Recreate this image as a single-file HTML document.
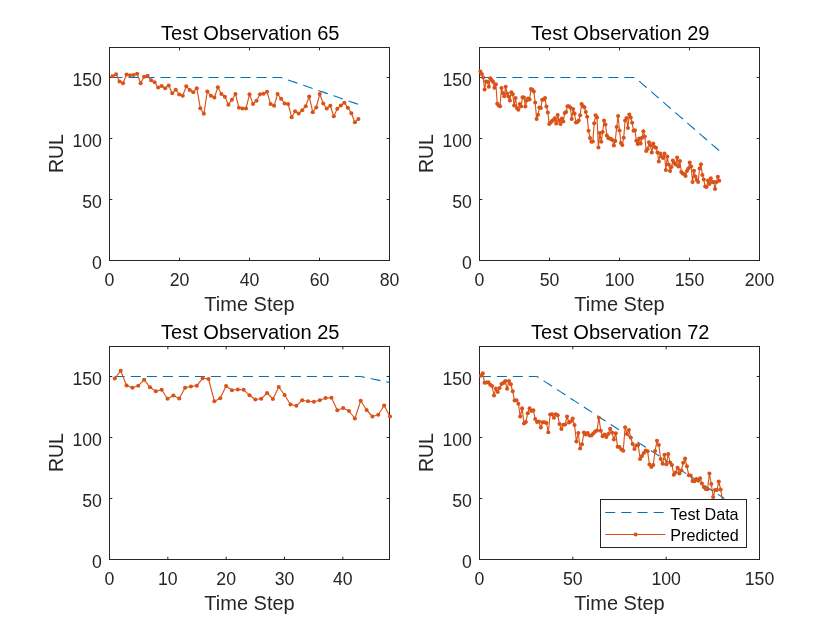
<!DOCTYPE html>
<html><head><meta charset="utf-8"><title>RUL Test Observations</title>
<style>html,body{margin:0;padding:0;background:#fff}svg{display:block}text{font-family:"Liberation Sans",Arial,Helvetica,sans-serif}</style></head><body>
<svg width="840" height="630" viewBox="0 0 840 630">
<rect width="840" height="630" fill="#fff"/>
<g id="ax1">
<clipPath id="cp0"><rect x="109.5" y="47.5" width="280.0" height="213.0"/></clipPath>
<rect x="109.5" y="47.5" width="280.0" height="213.0" fill="none" stroke="#262626" stroke-width="1"/>
<path d="M109.50 260.5v-2.8M109.50 47.5v2.8M179.50 260.5v-2.8M179.50 47.5v2.8M249.50 260.5v-2.8M249.50 47.5v2.8M319.50 260.5v-2.8M319.50 47.5v2.8M389.50 260.5v-2.8M389.50 47.5v2.8M109.5 260.50h2.8M389.5 260.50h-2.8M109.5 199.50h2.8M389.5 199.50h-2.8M109.5 138.50h2.8M389.5 138.50h-2.8M109.5 77.50h2.8M389.5 77.50h-2.8" stroke="#262626" stroke-width="1" fill="none"/>
<g clip-path="url(#cp0)">
<polyline points="112.51,77.50 116.03,77.50 119.54,77.50 123.05,77.50 126.56,77.50 130.07,77.50 133.59,77.50 137.10,77.50 140.61,77.50 144.12,77.50 147.64,77.50 151.15,77.50 154.66,77.50 158.18,77.50 161.69,77.50 165.20,77.50 168.71,77.50 172.22,77.50 175.74,77.50 179.25,77.50 182.76,77.50 186.28,77.50 189.79,77.50 193.30,77.50 196.81,77.50 200.32,77.50 203.84,77.50 207.35,77.50 210.86,77.50 214.38,77.50 217.89,77.50 221.40,77.50 224.91,77.50 228.43,77.50 231.94,77.50 235.45,77.50 238.96,77.50 242.47,77.50 245.99,77.50 249.50,77.50 253.01,77.50 256.52,77.50 260.04,77.50 263.55,77.50 267.06,77.50 270.58,77.50 274.09,77.50 277.60,77.50 281.11,77.50 284.62,78.72 288.14,79.94 291.65,81.16 295.16,82.38 298.68,83.60 302.19,84.82 305.70,86.04 309.21,87.26 312.73,88.48 316.24,89.70 319.75,90.92 323.26,92.14 326.77,93.36 330.29,94.58 333.80,95.80 337.31,97.02 340.83,98.24 344.34,99.46 347.85,100.68 351.36,101.90 354.88,103.12 358.39,104.34" fill="none" stroke="#0072BD" stroke-width="1.1" stroke-dasharray="10 6"/>
<polyline points="112.51,76.30 116.03,74.30 119.54,81.50 123.05,83.30 126.56,74.50 130.07,75.20 133.59,75.00 137.10,73.70 140.61,83.20 144.12,76.80 147.64,75.80 151.15,80.20 154.66,82.20 158.18,87.50 161.69,86.00 165.20,88.20 168.71,85.50 172.22,93.30 175.74,89.70 179.25,94.50 182.76,95.80 186.28,86.30 189.79,90.00 193.30,92.20 196.81,88.20 200.32,108.20 203.84,113.80 207.35,91.50 210.86,95.80 214.38,97.50 217.89,87.20 221.40,94.00 224.91,96.70 228.43,104.70 231.94,99.70 235.45,94.00 238.96,107.80 242.47,108.50 245.99,108.50 249.50,94.30 253.01,104.00 256.52,100.70 260.04,94.30 263.55,93.70 267.06,91.80 270.58,104.00 274.09,105.80 277.60,94.00 281.11,98.80 284.62,103.50 288.14,104.00 291.65,117.20 295.16,111.20 298.68,113.50 302.19,110.30 305.70,106.20 309.21,96.50 312.73,112.20 316.24,107.50 319.75,94.00 323.26,103.50 326.77,108.50 330.29,105.80 333.80,116.20 337.31,108.70 340.83,105.50 344.34,102.70 347.85,107.80 351.36,113.20 354.88,122.20 358.39,119.00" fill="none" stroke="#D95319" stroke-width="1.15" stroke-linejoin="round"/>
</g>
<g fill="#D95319"><circle cx="112.51" cy="76.30" r="2.05"/><circle cx="116.03" cy="74.30" r="2.05"/><circle cx="119.54" cy="81.50" r="2.05"/><circle cx="123.05" cy="83.30" r="2.05"/><circle cx="126.56" cy="74.50" r="2.05"/><circle cx="130.07" cy="75.20" r="2.05"/><circle cx="133.59" cy="75.00" r="2.05"/><circle cx="137.10" cy="73.70" r="2.05"/><circle cx="140.61" cy="83.20" r="2.05"/><circle cx="144.12" cy="76.80" r="2.05"/><circle cx="147.64" cy="75.80" r="2.05"/><circle cx="151.15" cy="80.20" r="2.05"/><circle cx="154.66" cy="82.20" r="2.05"/><circle cx="158.18" cy="87.50" r="2.05"/><circle cx="161.69" cy="86.00" r="2.05"/><circle cx="165.20" cy="88.20" r="2.05"/><circle cx="168.71" cy="85.50" r="2.05"/><circle cx="172.22" cy="93.30" r="2.05"/><circle cx="175.74" cy="89.70" r="2.05"/><circle cx="179.25" cy="94.50" r="2.05"/><circle cx="182.76" cy="95.80" r="2.05"/><circle cx="186.28" cy="86.30" r="2.05"/><circle cx="189.79" cy="90.00" r="2.05"/><circle cx="193.30" cy="92.20" r="2.05"/><circle cx="196.81" cy="88.20" r="2.05"/><circle cx="200.32" cy="108.20" r="2.05"/><circle cx="203.84" cy="113.80" r="2.05"/><circle cx="207.35" cy="91.50" r="2.05"/><circle cx="210.86" cy="95.80" r="2.05"/><circle cx="214.38" cy="97.50" r="2.05"/><circle cx="217.89" cy="87.20" r="2.05"/><circle cx="221.40" cy="94.00" r="2.05"/><circle cx="224.91" cy="96.70" r="2.05"/><circle cx="228.43" cy="104.70" r="2.05"/><circle cx="231.94" cy="99.70" r="2.05"/><circle cx="235.45" cy="94.00" r="2.05"/><circle cx="238.96" cy="107.80" r="2.05"/><circle cx="242.47" cy="108.50" r="2.05"/><circle cx="245.99" cy="108.50" r="2.05"/><circle cx="249.50" cy="94.30" r="2.05"/><circle cx="253.01" cy="104.00" r="2.05"/><circle cx="256.52" cy="100.70" r="2.05"/><circle cx="260.04" cy="94.30" r="2.05"/><circle cx="263.55" cy="93.70" r="2.05"/><circle cx="267.06" cy="91.80" r="2.05"/><circle cx="270.58" cy="104.00" r="2.05"/><circle cx="274.09" cy="105.80" r="2.05"/><circle cx="277.60" cy="94.00" r="2.05"/><circle cx="281.11" cy="98.80" r="2.05"/><circle cx="284.62" cy="103.50" r="2.05"/><circle cx="288.14" cy="104.00" r="2.05"/><circle cx="291.65" cy="117.20" r="2.05"/><circle cx="295.16" cy="111.20" r="2.05"/><circle cx="298.68" cy="113.50" r="2.05"/><circle cx="302.19" cy="110.30" r="2.05"/><circle cx="305.70" cy="106.20" r="2.05"/><circle cx="309.21" cy="96.50" r="2.05"/><circle cx="312.73" cy="112.20" r="2.05"/><circle cx="316.24" cy="107.50" r="2.05"/><circle cx="319.75" cy="94.00" r="2.05"/><circle cx="323.26" cy="103.50" r="2.05"/><circle cx="326.77" cy="108.50" r="2.05"/><circle cx="330.29" cy="105.80" r="2.05"/><circle cx="333.80" cy="116.20" r="2.05"/><circle cx="337.31" cy="108.70" r="2.05"/><circle cx="340.83" cy="105.50" r="2.05"/><circle cx="344.34" cy="102.70" r="2.05"/><circle cx="347.85" cy="107.80" r="2.05"/><circle cx="351.36" cy="113.20" r="2.05"/><circle cx="354.88" cy="122.20" r="2.05"/><circle cx="358.39" cy="119.00" r="2.05"/></g>
<text transform="translate(109.50 285.70)" font-size="17.7" fill="#262626" text-anchor="middle">0</text>
<text transform="translate(179.50 285.70)" font-size="17.7" fill="#262626" text-anchor="middle">20</text>
<text transform="translate(249.50 285.70)" font-size="17.7" fill="#262626" text-anchor="middle">40</text>
<text transform="translate(319.50 285.70)" font-size="17.7" fill="#262626" text-anchor="middle">60</text>
<text transform="translate(389.50 285.70)" font-size="17.7" fill="#262626" text-anchor="middle">80</text>
<text transform="translate(101.90 269.00)" font-size="17.7" fill="#262626" text-anchor="end">0</text>
<text transform="translate(101.90 208.00)" font-size="17.7" fill="#262626" text-anchor="end">50</text>
<text transform="translate(101.90 147.00)" font-size="17.7" fill="#262626" text-anchor="end">100</text>
<text transform="translate(101.90 86.00)" font-size="17.7" fill="#262626" text-anchor="end">150</text>
<text transform="translate(250.20 39.60) scale(1.025 1)" font-size="19.6" fill="#000" text-anchor="middle">Test Observation 65</text>
<text transform="translate(249.50 310.60) scale(1.02 1)" font-size="19.6" fill="#262626" text-anchor="middle">Time Step</text>
<text transform="translate(63.10 153.60) rotate(-90)" font-size="19.5" fill="#262626" text-anchor="middle">RUL</text>
</g>
<g id="ax2">
<clipPath id="cp1"><rect x="479.5" y="47.5" width="280.0" height="213.0"/></clipPath>
<rect x="479.5" y="47.5" width="280.0" height="213.0" fill="none" stroke="#262626" stroke-width="1"/>
<path d="M479.50 260.5v-2.8M479.50 47.5v2.8M549.50 260.5v-2.8M549.50 47.5v2.8M619.50 260.5v-2.8M619.50 47.5v2.8M689.50 260.5v-2.8M689.50 47.5v2.8M759.50 260.5v-2.8M759.50 47.5v2.8M479.5 260.50h2.8M759.5 260.50h-2.8M479.5 199.50h2.8M759.5 199.50h-2.8M479.5 138.50h2.8M759.5 138.50h-2.8M479.5 77.50h2.8M759.5 77.50h-2.8" stroke="#262626" stroke-width="1" fill="none"/>
<g clip-path="url(#cp1)">
<polyline points="480.40,77.50 481.81,77.50 483.21,77.50 484.62,77.50 486.02,77.50 487.43,77.50 488.83,77.50 490.24,77.50 491.64,77.50 493.05,77.50 494.45,77.50 495.86,77.50 497.26,77.50 498.67,77.50 500.07,77.50 501.48,77.50 502.88,77.50 504.29,77.50 505.69,77.50 507.10,77.50 508.50,77.50 509.91,77.50 511.31,77.50 512.72,77.50 514.12,77.50 515.53,77.50 516.93,77.50 518.34,77.50 519.75,77.50 521.15,77.50 522.55,77.50 523.96,77.50 525.37,77.50 526.77,77.50 528.17,77.50 529.58,77.50 530.99,77.50 532.39,77.50 533.79,77.50 535.20,77.50 536.61,77.50 538.01,77.50 539.41,77.50 540.82,77.50 542.23,77.50 543.63,77.50 545.03,77.50 546.44,77.50 547.85,77.50 549.25,77.50 550.65,77.50 552.06,77.50 553.47,77.50 554.87,77.50 556.27,77.50 557.68,77.50 559.09,77.50 560.49,77.50 561.89,77.50 563.30,77.50 564.71,77.50 566.11,77.50 567.51,77.50 568.92,77.50 570.33,77.50 571.73,77.50 573.13,77.50 574.54,77.50 575.95,77.50 577.35,77.50 578.75,77.50 580.16,77.50 581.57,77.50 582.97,77.50 584.38,77.50 585.78,77.50 587.18,77.50 588.59,77.50 590.00,77.50 591.40,77.50 592.81,77.50 594.21,77.50 595.62,77.50 597.02,77.50 598.42,77.50 599.83,77.50 601.24,77.50 602.64,77.50 604.04,77.50 605.45,77.50 606.86,77.50 608.26,77.50 609.66,77.50 611.07,77.50 612.48,77.50 613.88,77.50 615.28,77.50 616.69,77.50 618.10,77.50 619.50,77.50 620.90,77.50 622.31,77.50 623.72,77.50 625.12,77.50 626.52,77.50 627.93,77.50 629.34,77.50 630.74,77.50 632.14,77.50 633.55,77.50 634.96,77.50 636.36,78.72 637.76,79.94 639.17,81.16 640.58,82.38 641.98,83.60 643.38,84.82 644.79,86.04 646.19,87.26 647.60,88.48 649.00,89.70 650.41,90.92 651.82,92.14 653.22,93.36 654.62,94.58 656.03,95.80 657.43,97.02 658.84,98.24 660.25,99.46 661.65,100.68 663.06,101.90 664.46,103.12 665.87,104.34 667.27,105.56 668.67,106.78 670.08,108.00 671.49,109.22 672.89,110.44 674.30,111.66 675.70,112.88 677.11,114.10 678.51,115.32 679.91,116.54 681.32,117.76 682.73,118.98 684.13,120.20 685.53,121.42 686.94,122.64 688.35,123.86 689.75,125.08 691.15,126.30 692.56,127.52 693.97,128.74 695.37,129.96 696.77,131.18 698.18,132.40 699.59,133.62 700.99,134.84 702.39,136.06 703.80,137.28 705.21,138.50 706.61,139.72 708.01,140.94 709.42,142.16 710.83,143.38 712.23,144.60 713.63,145.82 715.04,147.04 716.44,148.26 717.85,149.48 719.25,150.70" fill="none" stroke="#0072BD" stroke-width="1.1" stroke-dasharray="10 6"/>
<polyline points="480.40,71.50 481.81,74.00 483.21,77.50 484.62,89.50 486.02,81.50 487.43,81.80 488.83,86.80 490.24,78.30 491.64,80.00 493.05,81.80 494.45,87.80 495.86,84.30 497.26,103.70 498.67,105.50 500.07,106.20 501.48,88.00 502.88,93.00 504.29,96.20 505.69,86.80 507.10,93.50 508.50,96.50 509.91,100.50 511.31,92.20 512.72,94.30 514.12,105.50 515.53,98.00 516.93,108.00 518.34,109.70 519.75,104.00 521.15,106.50 522.55,97.20 523.96,97.50 525.37,106.50 526.77,100.50 528.17,98.50 529.58,99.50 530.99,89.00 532.39,89.80 533.79,91.50 535.20,102.50 536.61,119.00 538.01,114.80 539.41,107.50 540.82,108.00 542.23,99.80 543.63,99.50 545.03,98.00 546.44,106.50 547.85,112.50 549.25,124.00 550.65,122.50 552.06,121.00 553.47,120.00 554.87,118.20 556.27,123.50 557.68,115.00 559.09,120.50 560.49,124.00 561.89,118.50 563.30,121.50 564.71,113.00 566.11,112.00 567.51,106.20 568.92,106.20 570.33,107.50 571.73,119.00 573.13,109.00 574.54,113.50 575.95,122.50 577.35,122.00 578.75,120.50 580.16,115.20 581.57,104.00 582.97,106.20 584.38,107.20 585.78,112.00 587.18,116.80 588.59,130.80 590.00,138.00 591.40,141.80 592.81,141.50 594.21,123.20 595.62,115.20 597.02,117.50 598.42,147.50 599.83,133.00 601.24,141.80 602.64,132.00 604.04,120.50 605.45,124.50 606.86,135.50 608.26,138.00 609.66,138.50 611.07,139.00 612.48,140.00 613.88,145.50 615.28,141.00 616.69,127.00 618.10,116.00 619.50,130.50 620.90,143.00 622.31,145.00 623.72,137.80 625.12,120.50 626.52,118.00 627.93,128.00 629.34,114.50 630.74,117.50 632.14,122.80 633.55,130.80 634.96,130.30 636.36,140.80 637.76,144.00 639.17,138.50 640.58,143.50 641.98,137.80 643.38,131.30 644.79,136.50 646.19,151.00 647.60,149.00 649.00,142.30 650.41,145.50 651.82,152.50 653.22,143.50 654.62,147.00 656.03,147.80 657.43,152.50 658.84,161.50 660.25,153.50 661.65,156.50 663.06,158.00 664.46,153.50 665.87,170.00 667.27,156.50 668.67,164.50 670.08,171.00 671.49,167.00 672.89,160.50 674.30,163.00 675.70,164.50 677.11,157.50 678.51,166.50 679.91,161.00 681.32,172.00 682.73,173.50 684.13,174.00 685.53,176.00 686.94,171.00 688.35,168.50 689.75,162.50 691.15,166.50 692.56,182.00 693.97,170.80 695.37,176.50 696.77,180.00 698.18,182.00 699.59,168.50 700.99,164.30 702.39,175.00 703.80,179.50 705.21,186.50 706.61,187.00 708.01,180.50 709.42,184.00 710.83,178.20 712.23,182.00 713.63,182.00 715.04,189.00 716.44,182.00 717.85,176.80 719.25,180.80" fill="none" stroke="#D95319" stroke-width="1.15" stroke-linejoin="round"/>
</g>
<g fill="#D95319"><circle cx="480.40" cy="71.50" r="2.05"/><circle cx="481.81" cy="74.00" r="2.05"/><circle cx="483.21" cy="77.50" r="2.05"/><circle cx="484.62" cy="89.50" r="2.05"/><circle cx="486.02" cy="81.50" r="2.05"/><circle cx="487.43" cy="81.80" r="2.05"/><circle cx="488.83" cy="86.80" r="2.05"/><circle cx="490.24" cy="78.30" r="2.05"/><circle cx="491.64" cy="80.00" r="2.05"/><circle cx="493.05" cy="81.80" r="2.05"/><circle cx="494.45" cy="87.80" r="2.05"/><circle cx="495.86" cy="84.30" r="2.05"/><circle cx="497.26" cy="103.70" r="2.05"/><circle cx="498.67" cy="105.50" r="2.05"/><circle cx="500.07" cy="106.20" r="2.05"/><circle cx="501.48" cy="88.00" r="2.05"/><circle cx="502.88" cy="93.00" r="2.05"/><circle cx="504.29" cy="96.20" r="2.05"/><circle cx="505.69" cy="86.80" r="2.05"/><circle cx="507.10" cy="93.50" r="2.05"/><circle cx="508.50" cy="96.50" r="2.05"/><circle cx="509.91" cy="100.50" r="2.05"/><circle cx="511.31" cy="92.20" r="2.05"/><circle cx="512.72" cy="94.30" r="2.05"/><circle cx="514.12" cy="105.50" r="2.05"/><circle cx="515.53" cy="98.00" r="2.05"/><circle cx="516.93" cy="108.00" r="2.05"/><circle cx="518.34" cy="109.70" r="2.05"/><circle cx="519.75" cy="104.00" r="2.05"/><circle cx="521.15" cy="106.50" r="2.05"/><circle cx="522.55" cy="97.20" r="2.05"/><circle cx="523.96" cy="97.50" r="2.05"/><circle cx="525.37" cy="106.50" r="2.05"/><circle cx="526.77" cy="100.50" r="2.05"/><circle cx="528.17" cy="98.50" r="2.05"/><circle cx="529.58" cy="99.50" r="2.05"/><circle cx="530.99" cy="89.00" r="2.05"/><circle cx="532.39" cy="89.80" r="2.05"/><circle cx="533.79" cy="91.50" r="2.05"/><circle cx="535.20" cy="102.50" r="2.05"/><circle cx="536.61" cy="119.00" r="2.05"/><circle cx="538.01" cy="114.80" r="2.05"/><circle cx="539.41" cy="107.50" r="2.05"/><circle cx="540.82" cy="108.00" r="2.05"/><circle cx="542.23" cy="99.80" r="2.05"/><circle cx="543.63" cy="99.50" r="2.05"/><circle cx="545.03" cy="98.00" r="2.05"/><circle cx="546.44" cy="106.50" r="2.05"/><circle cx="547.85" cy="112.50" r="2.05"/><circle cx="549.25" cy="124.00" r="2.05"/><circle cx="550.65" cy="122.50" r="2.05"/><circle cx="552.06" cy="121.00" r="2.05"/><circle cx="553.47" cy="120.00" r="2.05"/><circle cx="554.87" cy="118.20" r="2.05"/><circle cx="556.27" cy="123.50" r="2.05"/><circle cx="557.68" cy="115.00" r="2.05"/><circle cx="559.09" cy="120.50" r="2.05"/><circle cx="560.49" cy="124.00" r="2.05"/><circle cx="561.89" cy="118.50" r="2.05"/><circle cx="563.30" cy="121.50" r="2.05"/><circle cx="564.71" cy="113.00" r="2.05"/><circle cx="566.11" cy="112.00" r="2.05"/><circle cx="567.51" cy="106.20" r="2.05"/><circle cx="568.92" cy="106.20" r="2.05"/><circle cx="570.33" cy="107.50" r="2.05"/><circle cx="571.73" cy="119.00" r="2.05"/><circle cx="573.13" cy="109.00" r="2.05"/><circle cx="574.54" cy="113.50" r="2.05"/><circle cx="575.95" cy="122.50" r="2.05"/><circle cx="577.35" cy="122.00" r="2.05"/><circle cx="578.75" cy="120.50" r="2.05"/><circle cx="580.16" cy="115.20" r="2.05"/><circle cx="581.57" cy="104.00" r="2.05"/><circle cx="582.97" cy="106.20" r="2.05"/><circle cx="584.38" cy="107.20" r="2.05"/><circle cx="585.78" cy="112.00" r="2.05"/><circle cx="587.18" cy="116.80" r="2.05"/><circle cx="588.59" cy="130.80" r="2.05"/><circle cx="590.00" cy="138.00" r="2.05"/><circle cx="591.40" cy="141.80" r="2.05"/><circle cx="592.81" cy="141.50" r="2.05"/><circle cx="594.21" cy="123.20" r="2.05"/><circle cx="595.62" cy="115.20" r="2.05"/><circle cx="597.02" cy="117.50" r="2.05"/><circle cx="598.42" cy="147.50" r="2.05"/><circle cx="599.83" cy="133.00" r="2.05"/><circle cx="601.24" cy="141.80" r="2.05"/><circle cx="602.64" cy="132.00" r="2.05"/><circle cx="604.04" cy="120.50" r="2.05"/><circle cx="605.45" cy="124.50" r="2.05"/><circle cx="606.86" cy="135.50" r="2.05"/><circle cx="608.26" cy="138.00" r="2.05"/><circle cx="609.66" cy="138.50" r="2.05"/><circle cx="611.07" cy="139.00" r="2.05"/><circle cx="612.48" cy="140.00" r="2.05"/><circle cx="613.88" cy="145.50" r="2.05"/><circle cx="615.28" cy="141.00" r="2.05"/><circle cx="616.69" cy="127.00" r="2.05"/><circle cx="618.10" cy="116.00" r="2.05"/><circle cx="619.50" cy="130.50" r="2.05"/><circle cx="620.90" cy="143.00" r="2.05"/><circle cx="622.31" cy="145.00" r="2.05"/><circle cx="623.72" cy="137.80" r="2.05"/><circle cx="625.12" cy="120.50" r="2.05"/><circle cx="626.52" cy="118.00" r="2.05"/><circle cx="627.93" cy="128.00" r="2.05"/><circle cx="629.34" cy="114.50" r="2.05"/><circle cx="630.74" cy="117.50" r="2.05"/><circle cx="632.14" cy="122.80" r="2.05"/><circle cx="633.55" cy="130.80" r="2.05"/><circle cx="634.96" cy="130.30" r="2.05"/><circle cx="636.36" cy="140.80" r="2.05"/><circle cx="637.76" cy="144.00" r="2.05"/><circle cx="639.17" cy="138.50" r="2.05"/><circle cx="640.58" cy="143.50" r="2.05"/><circle cx="641.98" cy="137.80" r="2.05"/><circle cx="643.38" cy="131.30" r="2.05"/><circle cx="644.79" cy="136.50" r="2.05"/><circle cx="646.19" cy="151.00" r="2.05"/><circle cx="647.60" cy="149.00" r="2.05"/><circle cx="649.00" cy="142.30" r="2.05"/><circle cx="650.41" cy="145.50" r="2.05"/><circle cx="651.82" cy="152.50" r="2.05"/><circle cx="653.22" cy="143.50" r="2.05"/><circle cx="654.62" cy="147.00" r="2.05"/><circle cx="656.03" cy="147.80" r="2.05"/><circle cx="657.43" cy="152.50" r="2.05"/><circle cx="658.84" cy="161.50" r="2.05"/><circle cx="660.25" cy="153.50" r="2.05"/><circle cx="661.65" cy="156.50" r="2.05"/><circle cx="663.06" cy="158.00" r="2.05"/><circle cx="664.46" cy="153.50" r="2.05"/><circle cx="665.87" cy="170.00" r="2.05"/><circle cx="667.27" cy="156.50" r="2.05"/><circle cx="668.67" cy="164.50" r="2.05"/><circle cx="670.08" cy="171.00" r="2.05"/><circle cx="671.49" cy="167.00" r="2.05"/><circle cx="672.89" cy="160.50" r="2.05"/><circle cx="674.30" cy="163.00" r="2.05"/><circle cx="675.70" cy="164.50" r="2.05"/><circle cx="677.11" cy="157.50" r="2.05"/><circle cx="678.51" cy="166.50" r="2.05"/><circle cx="679.91" cy="161.00" r="2.05"/><circle cx="681.32" cy="172.00" r="2.05"/><circle cx="682.73" cy="173.50" r="2.05"/><circle cx="684.13" cy="174.00" r="2.05"/><circle cx="685.53" cy="176.00" r="2.05"/><circle cx="686.94" cy="171.00" r="2.05"/><circle cx="688.35" cy="168.50" r="2.05"/><circle cx="689.75" cy="162.50" r="2.05"/><circle cx="691.15" cy="166.50" r="2.05"/><circle cx="692.56" cy="182.00" r="2.05"/><circle cx="693.97" cy="170.80" r="2.05"/><circle cx="695.37" cy="176.50" r="2.05"/><circle cx="696.77" cy="180.00" r="2.05"/><circle cx="698.18" cy="182.00" r="2.05"/><circle cx="699.59" cy="168.50" r="2.05"/><circle cx="700.99" cy="164.30" r="2.05"/><circle cx="702.39" cy="175.00" r="2.05"/><circle cx="703.80" cy="179.50" r="2.05"/><circle cx="705.21" cy="186.50" r="2.05"/><circle cx="706.61" cy="187.00" r="2.05"/><circle cx="708.01" cy="180.50" r="2.05"/><circle cx="709.42" cy="184.00" r="2.05"/><circle cx="710.83" cy="178.20" r="2.05"/><circle cx="712.23" cy="182.00" r="2.05"/><circle cx="713.63" cy="182.00" r="2.05"/><circle cx="715.04" cy="189.00" r="2.05"/><circle cx="716.44" cy="182.00" r="2.05"/><circle cx="717.85" cy="176.80" r="2.05"/><circle cx="719.25" cy="180.80" r="2.05"/></g>
<text transform="translate(479.50 285.70)" font-size="17.7" fill="#262626" text-anchor="middle">0</text>
<text transform="translate(549.50 285.70)" font-size="17.7" fill="#262626" text-anchor="middle">50</text>
<text transform="translate(619.50 285.70)" font-size="17.7" fill="#262626" text-anchor="middle">100</text>
<text transform="translate(689.50 285.70)" font-size="17.7" fill="#262626" text-anchor="middle">150</text>
<text transform="translate(759.50 285.70)" font-size="17.7" fill="#262626" text-anchor="middle">200</text>
<text transform="translate(471.90 269.00)" font-size="17.7" fill="#262626" text-anchor="end">0</text>
<text transform="translate(471.90 208.00)" font-size="17.7" fill="#262626" text-anchor="end">50</text>
<text transform="translate(471.90 147.00)" font-size="17.7" fill="#262626" text-anchor="end">100</text>
<text transform="translate(471.90 86.00)" font-size="17.7" fill="#262626" text-anchor="end">150</text>
<text transform="translate(620.20 39.60) scale(1.025 1)" font-size="19.6" fill="#000" text-anchor="middle">Test Observation 29</text>
<text transform="translate(619.50 310.60) scale(1.02 1)" font-size="19.6" fill="#262626" text-anchor="middle">Time Step</text>
<text transform="translate(433.10 153.60) rotate(-90)" font-size="19.5" fill="#262626" text-anchor="middle">RUL</text>
</g>
<g id="ax3">
<clipPath id="cp2"><rect x="109.5" y="346.5" width="280.0" height="213.0"/></clipPath>
<rect x="109.5" y="346.5" width="280.0" height="213.0" fill="none" stroke="#262626" stroke-width="1"/>
<path d="M109.50 559.5v-2.8M109.50 346.5v2.8M167.83 559.5v-2.8M167.83 346.5v2.8M226.17 559.5v-2.8M226.17 346.5v2.8M284.50 559.5v-2.8M284.50 346.5v2.8M342.83 559.5v-2.8M342.83 346.5v2.8M109.5 559.50h2.8M389.5 559.50h-2.8M109.5 498.50h2.8M389.5 498.50h-2.8M109.5 437.50h2.8M389.5 437.50h-2.8M109.5 376.50h2.8M389.5 376.50h-2.8" stroke="#262626" stroke-width="1" fill="none"/>
<g clip-path="url(#cp2)">
<polyline points="114.85,376.50 120.71,376.50 126.56,376.50 132.42,376.50 138.27,376.50 144.12,376.50 149.98,376.50 155.83,376.50 161.69,376.50 167.54,376.50 173.40,376.50 179.25,376.50 185.10,376.50 190.96,376.50 196.81,376.50 202.67,376.50 208.52,376.50 214.38,376.50 220.23,376.50 226.08,376.50 231.94,376.50 237.79,376.50 243.65,376.50 249.50,376.50 255.35,376.50 261.21,376.50 267.06,376.50 272.92,376.50 278.77,376.50 284.62,376.50 290.48,376.50 296.33,376.50 302.19,376.50 308.04,376.50 313.90,376.50 319.75,376.50 325.60,376.50 331.46,376.50 337.31,376.50 343.17,376.50 349.02,376.50 354.88,376.50 360.73,376.50 366.58,377.72 372.44,378.94 378.29,380.16 384.15,381.38 390.00,382.60" fill="none" stroke="#0072BD" stroke-width="1.1" stroke-dasharray="10 6"/>
<polyline points="114.85,378.50 120.71,370.70 126.56,385.50 132.42,387.80 138.27,385.80 144.12,379.70 149.98,387.30 155.83,391.20 161.69,389.70 167.54,398.80 173.40,395.50 179.25,398.50 185.10,387.80 190.96,386.50 196.81,385.70 202.67,378.30 208.52,379.00 214.38,401.30 220.23,398.20 226.08,386.00 231.94,390.30 237.79,389.50 243.65,389.80 249.50,395.30 255.35,399.50 261.21,398.80 267.06,393.00 272.92,399.00 278.77,387.00 284.62,395.00 290.48,404.50 296.33,405.80 302.19,400.20 308.04,401.30 313.90,401.80 319.75,400.20 325.60,398.00 331.46,397.70 337.31,410.30 343.17,408.00 349.02,411.00 354.88,418.50 360.73,400.80 366.58,410.00 372.44,416.50 378.29,414.70 384.15,405.50 390.00,416.50" fill="none" stroke="#D95319" stroke-width="1.15" stroke-linejoin="round"/>
</g>
<g fill="#D95319"><circle cx="114.85" cy="378.50" r="2.05"/><circle cx="120.71" cy="370.70" r="2.05"/><circle cx="126.56" cy="385.50" r="2.05"/><circle cx="132.42" cy="387.80" r="2.05"/><circle cx="138.27" cy="385.80" r="2.05"/><circle cx="144.12" cy="379.70" r="2.05"/><circle cx="149.98" cy="387.30" r="2.05"/><circle cx="155.83" cy="391.20" r="2.05"/><circle cx="161.69" cy="389.70" r="2.05"/><circle cx="167.54" cy="398.80" r="2.05"/><circle cx="173.40" cy="395.50" r="2.05"/><circle cx="179.25" cy="398.50" r="2.05"/><circle cx="185.10" cy="387.80" r="2.05"/><circle cx="190.96" cy="386.50" r="2.05"/><circle cx="196.81" cy="385.70" r="2.05"/><circle cx="202.67" cy="378.30" r="2.05"/><circle cx="208.52" cy="379.00" r="2.05"/><circle cx="214.38" cy="401.30" r="2.05"/><circle cx="220.23" cy="398.20" r="2.05"/><circle cx="226.08" cy="386.00" r="2.05"/><circle cx="231.94" cy="390.30" r="2.05"/><circle cx="237.79" cy="389.50" r="2.05"/><circle cx="243.65" cy="389.80" r="2.05"/><circle cx="249.50" cy="395.30" r="2.05"/><circle cx="255.35" cy="399.50" r="2.05"/><circle cx="261.21" cy="398.80" r="2.05"/><circle cx="267.06" cy="393.00" r="2.05"/><circle cx="272.92" cy="399.00" r="2.05"/><circle cx="278.77" cy="387.00" r="2.05"/><circle cx="284.62" cy="395.00" r="2.05"/><circle cx="290.48" cy="404.50" r="2.05"/><circle cx="296.33" cy="405.80" r="2.05"/><circle cx="302.19" cy="400.20" r="2.05"/><circle cx="308.04" cy="401.30" r="2.05"/><circle cx="313.90" cy="401.80" r="2.05"/><circle cx="319.75" cy="400.20" r="2.05"/><circle cx="325.60" cy="398.00" r="2.05"/><circle cx="331.46" cy="397.70" r="2.05"/><circle cx="337.31" cy="410.30" r="2.05"/><circle cx="343.17" cy="408.00" r="2.05"/><circle cx="349.02" cy="411.00" r="2.05"/><circle cx="354.88" cy="418.50" r="2.05"/><circle cx="360.73" cy="400.80" r="2.05"/><circle cx="366.58" cy="410.00" r="2.05"/><circle cx="372.44" cy="416.50" r="2.05"/><circle cx="378.29" cy="414.70" r="2.05"/><circle cx="384.15" cy="405.50" r="2.05"/><circle cx="390.00" cy="416.50" r="2.05"/></g>
<text transform="translate(109.50 584.70)" font-size="17.7" fill="#262626" text-anchor="middle">0</text>
<text transform="translate(167.83 584.70)" font-size="17.7" fill="#262626" text-anchor="middle">10</text>
<text transform="translate(226.17 584.70)" font-size="17.7" fill="#262626" text-anchor="middle">20</text>
<text transform="translate(284.50 584.70)" font-size="17.7" fill="#262626" text-anchor="middle">30</text>
<text transform="translate(342.83 584.70)" font-size="17.7" fill="#262626" text-anchor="middle">40</text>
<text transform="translate(101.90 568.00)" font-size="17.7" fill="#262626" text-anchor="end">0</text>
<text transform="translate(101.90 507.00)" font-size="17.7" fill="#262626" text-anchor="end">50</text>
<text transform="translate(101.90 446.00)" font-size="17.7" fill="#262626" text-anchor="end">100</text>
<text transform="translate(101.90 385.00)" font-size="17.7" fill="#262626" text-anchor="end">150</text>
<text transform="translate(250.20 338.60) scale(1.025 1)" font-size="19.6" fill="#000" text-anchor="middle">Test Observation 25</text>
<text transform="translate(249.50 609.60) scale(1.02 1)" font-size="19.6" fill="#262626" text-anchor="middle">Time Step</text>
<text transform="translate(63.10 452.60) rotate(-90)" font-size="19.5" fill="#262626" text-anchor="middle">RUL</text>
</g>
<g id="ax4">
<clipPath id="cp3"><rect x="479.5" y="346.5" width="280.0" height="213.0"/></clipPath>
<rect x="479.5" y="346.5" width="280.0" height="213.0" fill="none" stroke="#262626" stroke-width="1"/>
<path d="M479.50 559.5v-2.8M479.50 346.5v2.8M572.83 559.5v-2.8M572.83 346.5v2.8M666.17 559.5v-2.8M666.17 346.5v2.8M759.50 559.5v-2.8M759.50 346.5v2.8M479.5 559.50h2.8M759.5 559.50h-2.8M479.5 498.50h2.8M759.5 498.50h-2.8M479.5 437.50h2.8M759.5 437.50h-2.8M479.5 376.50h2.8M759.5 376.50h-2.8" stroke="#262626" stroke-width="1" fill="none"/>
<g clip-path="url(#cp3)">
<polyline points="480.87,376.50 482.75,376.50 484.62,376.50 486.49,376.50 488.37,376.50 490.24,376.50 492.11,376.50 493.99,376.50 495.86,376.50 497.73,376.50 499.61,376.50 501.48,376.50 503.35,376.50 505.23,376.50 507.10,376.50 508.97,376.50 510.85,376.50 512.72,376.50 514.59,376.50 516.47,376.50 518.34,376.50 520.21,376.50 522.09,376.50 523.96,376.50 525.83,376.50 527.71,376.50 529.58,376.50 531.45,376.50 533.33,376.50 535.20,376.50 537.07,376.50 538.95,377.72 540.82,378.94 542.69,380.16 544.57,381.38 546.44,382.60 548.31,383.82 550.19,385.04 552.06,386.26 553.93,387.48 555.81,388.70 557.68,389.92 559.55,391.14 561.43,392.36 563.30,393.58 565.17,394.80 567.05,396.02 568.92,397.24 570.79,398.46 572.67,399.68 574.54,400.90 576.41,402.12 578.29,403.34 580.16,404.56 582.03,405.78 583.91,407.00 585.78,408.22 587.65,409.44 589.53,410.66 591.40,411.88 593.27,413.10 595.15,414.32 597.02,415.54 598.89,416.76 600.77,417.98 602.64,419.20 604.51,420.42 606.39,421.64 608.26,422.86 610.13,424.08 612.01,425.30 613.88,426.52 615.75,427.74 617.63,428.96 619.50,430.18 621.37,431.40 623.25,432.62 625.12,433.84 626.99,435.06 628.87,436.28 630.74,437.50 632.61,438.72 634.49,439.94 636.36,441.16 638.23,442.38 640.11,443.60 641.98,444.82 643.85,446.04 645.73,447.26 647.60,448.48 649.47,449.70 651.35,450.92 653.22,452.14 655.09,453.36 656.97,454.58 658.84,455.80 660.71,457.02 662.59,458.24 664.46,459.46 666.33,460.68 668.21,461.90 670.08,463.12 671.95,464.34 673.83,465.56 675.70,466.78 677.57,468.00 679.45,469.22 681.32,470.44 683.19,471.66 685.07,472.88 686.94,474.10 688.81,475.32 690.69,476.54 692.56,477.76 694.43,478.98 696.31,480.20 698.18,481.42 700.05,482.64 701.93,483.86 703.80,485.08 705.67,486.30 707.55,487.52 709.42,488.74 711.29,489.96 713.17,491.18 715.04,492.40 716.91,493.62 718.79,494.84 720.66,496.06 722.53,497.28 724.41,498.50" fill="none" stroke="#0072BD" stroke-width="1.1" stroke-dasharray="10 6"/>
<polyline points="480.87,375.80 482.75,373.30 484.62,382.80 486.49,382.50 488.37,382.20 490.24,384.80 492.11,386.00 493.99,395.50 495.86,388.50 497.73,392.00 499.61,388.00 501.48,384.00 503.35,383.00 505.23,381.00 507.10,388.80 508.97,381.00 510.85,384.30 512.72,391.30 514.59,400.50 516.47,400.20 518.34,403.70 520.21,416.50 522.09,408.40 523.96,423.50 525.83,422.00 527.71,413.30 529.58,408.40 531.45,411.00 533.33,410.20 535.20,419.00 537.07,422.00 538.95,421.50 540.82,427.50 542.69,422.20 544.57,422.20 546.44,423.00 548.31,432.20 550.19,414.50 552.06,414.30 553.93,417.70 555.81,414.20 557.68,415.30 559.55,424.00 561.43,429.00 563.30,424.80 565.17,424.50 567.05,416.50 568.92,422.50 570.79,421.50 572.67,418.50 574.54,425.00 576.41,441.50 578.29,433.00 580.16,448.50 582.03,444.30 583.91,432.50 585.78,434.50 587.65,433.00 589.53,435.50 591.40,435.50 593.27,433.50 595.15,431.50 597.02,430.50 598.89,417.70 600.77,430.80 602.64,436.30 604.51,434.50 606.39,437.00 608.26,434.00 610.13,428.80 612.01,432.50 613.88,439.50 615.75,433.30 617.63,446.80 619.50,447.00 621.37,449.50 623.25,450.70 625.12,427.20 626.99,434.00 628.87,430.00 630.74,437.50 632.61,444.00 634.49,449.00 636.36,445.50 638.23,445.00 640.11,459.00 641.98,456.00 643.85,453.00 645.73,450.50 647.60,451.20 649.47,464.50 651.35,467.00 653.22,465.00 655.09,451.00 656.97,440.80 658.84,445.00 660.71,459.00 662.59,463.80 664.46,454.80 666.33,464.20 668.21,454.00 670.08,462.50 671.95,465.00 673.83,474.80 675.70,472.50 677.57,467.80 679.45,473.50 681.32,470.50 683.19,462.80 685.07,458.50 686.94,466.30 688.81,475.30 690.69,475.50 692.56,481.00 694.43,481.20 696.31,479.00 698.18,480.50 700.05,478.20 701.93,483.50 703.80,487.00 705.67,489.00 707.55,489.30 709.42,473.50 711.29,484.00 713.17,497.00 715.04,490.00 716.91,490.00 718.79,481.50 720.66,489.50 722.53,500.20 724.41,506.00" fill="none" stroke="#D95319" stroke-width="1.15" stroke-linejoin="round"/>
</g>
<g fill="#D95319"><circle cx="480.87" cy="375.80" r="2.05"/><circle cx="482.75" cy="373.30" r="2.05"/><circle cx="484.62" cy="382.80" r="2.05"/><circle cx="486.49" cy="382.50" r="2.05"/><circle cx="488.37" cy="382.20" r="2.05"/><circle cx="490.24" cy="384.80" r="2.05"/><circle cx="492.11" cy="386.00" r="2.05"/><circle cx="493.99" cy="395.50" r="2.05"/><circle cx="495.86" cy="388.50" r="2.05"/><circle cx="497.73" cy="392.00" r="2.05"/><circle cx="499.61" cy="388.00" r="2.05"/><circle cx="501.48" cy="384.00" r="2.05"/><circle cx="503.35" cy="383.00" r="2.05"/><circle cx="505.23" cy="381.00" r="2.05"/><circle cx="507.10" cy="388.80" r="2.05"/><circle cx="508.97" cy="381.00" r="2.05"/><circle cx="510.85" cy="384.30" r="2.05"/><circle cx="512.72" cy="391.30" r="2.05"/><circle cx="514.59" cy="400.50" r="2.05"/><circle cx="516.47" cy="400.20" r="2.05"/><circle cx="518.34" cy="403.70" r="2.05"/><circle cx="520.21" cy="416.50" r="2.05"/><circle cx="522.09" cy="408.40" r="2.05"/><circle cx="523.96" cy="423.50" r="2.05"/><circle cx="525.83" cy="422.00" r="2.05"/><circle cx="527.71" cy="413.30" r="2.05"/><circle cx="529.58" cy="408.40" r="2.05"/><circle cx="531.45" cy="411.00" r="2.05"/><circle cx="533.33" cy="410.20" r="2.05"/><circle cx="535.20" cy="419.00" r="2.05"/><circle cx="537.07" cy="422.00" r="2.05"/><circle cx="538.95" cy="421.50" r="2.05"/><circle cx="540.82" cy="427.50" r="2.05"/><circle cx="542.69" cy="422.20" r="2.05"/><circle cx="544.57" cy="422.20" r="2.05"/><circle cx="546.44" cy="423.00" r="2.05"/><circle cx="548.31" cy="432.20" r="2.05"/><circle cx="550.19" cy="414.50" r="2.05"/><circle cx="552.06" cy="414.30" r="2.05"/><circle cx="553.93" cy="417.70" r="2.05"/><circle cx="555.81" cy="414.20" r="2.05"/><circle cx="557.68" cy="415.30" r="2.05"/><circle cx="559.55" cy="424.00" r="2.05"/><circle cx="561.43" cy="429.00" r="2.05"/><circle cx="563.30" cy="424.80" r="2.05"/><circle cx="565.17" cy="424.50" r="2.05"/><circle cx="567.05" cy="416.50" r="2.05"/><circle cx="568.92" cy="422.50" r="2.05"/><circle cx="570.79" cy="421.50" r="2.05"/><circle cx="572.67" cy="418.50" r="2.05"/><circle cx="574.54" cy="425.00" r="2.05"/><circle cx="576.41" cy="441.50" r="2.05"/><circle cx="578.29" cy="433.00" r="2.05"/><circle cx="580.16" cy="448.50" r="2.05"/><circle cx="582.03" cy="444.30" r="2.05"/><circle cx="583.91" cy="432.50" r="2.05"/><circle cx="585.78" cy="434.50" r="2.05"/><circle cx="587.65" cy="433.00" r="2.05"/><circle cx="589.53" cy="435.50" r="2.05"/><circle cx="591.40" cy="435.50" r="2.05"/><circle cx="593.27" cy="433.50" r="2.05"/><circle cx="595.15" cy="431.50" r="2.05"/><circle cx="597.02" cy="430.50" r="2.05"/><circle cx="598.89" cy="417.70" r="2.05"/><circle cx="600.77" cy="430.80" r="2.05"/><circle cx="602.64" cy="436.30" r="2.05"/><circle cx="604.51" cy="434.50" r="2.05"/><circle cx="606.39" cy="437.00" r="2.05"/><circle cx="608.26" cy="434.00" r="2.05"/><circle cx="610.13" cy="428.80" r="2.05"/><circle cx="612.01" cy="432.50" r="2.05"/><circle cx="613.88" cy="439.50" r="2.05"/><circle cx="615.75" cy="433.30" r="2.05"/><circle cx="617.63" cy="446.80" r="2.05"/><circle cx="619.50" cy="447.00" r="2.05"/><circle cx="621.37" cy="449.50" r="2.05"/><circle cx="623.25" cy="450.70" r="2.05"/><circle cx="625.12" cy="427.20" r="2.05"/><circle cx="626.99" cy="434.00" r="2.05"/><circle cx="628.87" cy="430.00" r="2.05"/><circle cx="630.74" cy="437.50" r="2.05"/><circle cx="632.61" cy="444.00" r="2.05"/><circle cx="634.49" cy="449.00" r="2.05"/><circle cx="636.36" cy="445.50" r="2.05"/><circle cx="638.23" cy="445.00" r="2.05"/><circle cx="640.11" cy="459.00" r="2.05"/><circle cx="641.98" cy="456.00" r="2.05"/><circle cx="643.85" cy="453.00" r="2.05"/><circle cx="645.73" cy="450.50" r="2.05"/><circle cx="647.60" cy="451.20" r="2.05"/><circle cx="649.47" cy="464.50" r="2.05"/><circle cx="651.35" cy="467.00" r="2.05"/><circle cx="653.22" cy="465.00" r="2.05"/><circle cx="655.09" cy="451.00" r="2.05"/><circle cx="656.97" cy="440.80" r="2.05"/><circle cx="658.84" cy="445.00" r="2.05"/><circle cx="660.71" cy="459.00" r="2.05"/><circle cx="662.59" cy="463.80" r="2.05"/><circle cx="664.46" cy="454.80" r="2.05"/><circle cx="666.33" cy="464.20" r="2.05"/><circle cx="668.21" cy="454.00" r="2.05"/><circle cx="670.08" cy="462.50" r="2.05"/><circle cx="671.95" cy="465.00" r="2.05"/><circle cx="673.83" cy="474.80" r="2.05"/><circle cx="675.70" cy="472.50" r="2.05"/><circle cx="677.57" cy="467.80" r="2.05"/><circle cx="679.45" cy="473.50" r="2.05"/><circle cx="681.32" cy="470.50" r="2.05"/><circle cx="683.19" cy="462.80" r="2.05"/><circle cx="685.07" cy="458.50" r="2.05"/><circle cx="686.94" cy="466.30" r="2.05"/><circle cx="688.81" cy="475.30" r="2.05"/><circle cx="690.69" cy="475.50" r="2.05"/><circle cx="692.56" cy="481.00" r="2.05"/><circle cx="694.43" cy="481.20" r="2.05"/><circle cx="696.31" cy="479.00" r="2.05"/><circle cx="698.18" cy="480.50" r="2.05"/><circle cx="700.05" cy="478.20" r="2.05"/><circle cx="701.93" cy="483.50" r="2.05"/><circle cx="703.80" cy="487.00" r="2.05"/><circle cx="705.67" cy="489.00" r="2.05"/><circle cx="707.55" cy="489.30" r="2.05"/><circle cx="709.42" cy="473.50" r="2.05"/><circle cx="711.29" cy="484.00" r="2.05"/><circle cx="713.17" cy="497.00" r="2.05"/><circle cx="715.04" cy="490.00" r="2.05"/><circle cx="716.91" cy="490.00" r="2.05"/><circle cx="718.79" cy="481.50" r="2.05"/><circle cx="720.66" cy="489.50" r="2.05"/><circle cx="722.53" cy="500.20" r="2.05"/><circle cx="724.41" cy="506.00" r="2.05"/></g>
<rect x="600.5" y="499.5" width="146" height="48" fill="#fff" stroke="#262626" stroke-width="1"/>
<line x1="605.2" y1="512.5" x2="664" y2="512.5" stroke="#0072BD" stroke-width="1.1" stroke-dasharray="10 6.15"/>
<line x1="605.2" y1="534.5" x2="665.5" y2="534.5" stroke="#D95319" stroke-width="1.1"/>
<circle cx="635.6" cy="534.5" r="2" fill="#D95319"/>
<text transform="translate(670.30 519.80) scale(1.012 1)" font-size="16.0" fill="#000" text-anchor="start">Test Data</text>
<text transform="translate(670.30 540.80) scale(1.012 1)" font-size="16.0" fill="#000" text-anchor="start">Predicted</text>
<text transform="translate(479.50 584.70)" font-size="17.7" fill="#262626" text-anchor="middle">0</text>
<text transform="translate(572.83 584.70)" font-size="17.7" fill="#262626" text-anchor="middle">50</text>
<text transform="translate(666.17 584.70)" font-size="17.7" fill="#262626" text-anchor="middle">100</text>
<text transform="translate(759.50 584.70)" font-size="17.7" fill="#262626" text-anchor="middle">150</text>
<text transform="translate(471.90 568.00)" font-size="17.7" fill="#262626" text-anchor="end">0</text>
<text transform="translate(471.90 507.00)" font-size="17.7" fill="#262626" text-anchor="end">50</text>
<text transform="translate(471.90 446.00)" font-size="17.7" fill="#262626" text-anchor="end">100</text>
<text transform="translate(471.90 385.00)" font-size="17.7" fill="#262626" text-anchor="end">150</text>
<text transform="translate(620.20 338.60) scale(1.025 1)" font-size="19.6" fill="#000" text-anchor="middle">Test Observation 72</text>
<text transform="translate(619.50 609.60) scale(1.02 1)" font-size="19.6" fill="#262626" text-anchor="middle">Time Step</text>
<text transform="translate(433.10 452.60) rotate(-90)" font-size="19.5" fill="#262626" text-anchor="middle">RUL</text>
</g>
</svg></body></html>
